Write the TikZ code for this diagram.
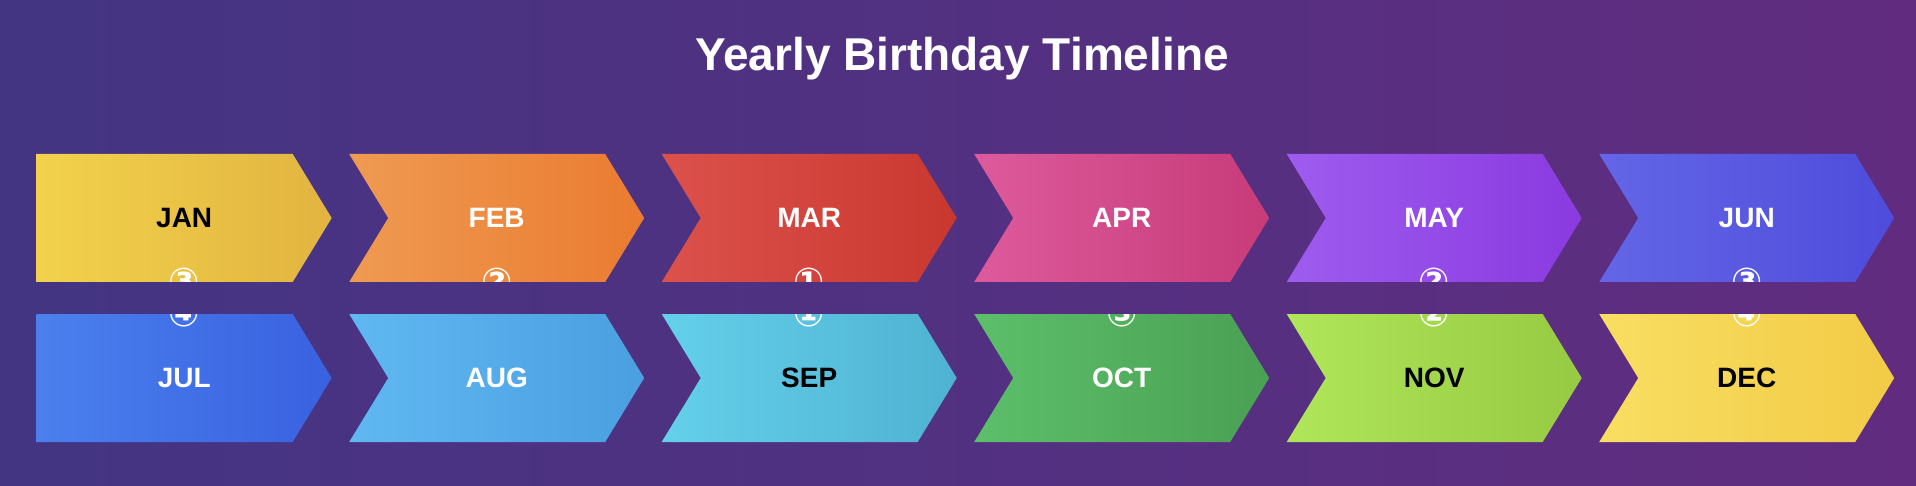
\documentclass[tikz,border=0pt]{standalone}
\usepackage{fontspec}
\setmainfont{Liberation Sans}
\newfontfamily\badgefont{DejaVu Sans}
\definecolor{bgL}{HTML}{433582}
\definecolor{bgR}{HTML}{612C80}
\definecolor{janA}{HTML}{F2D24C}\definecolor{janB}{HTML}{E2B440}
\definecolor{febA}{HTML}{EF9A52}\definecolor{febB}{HTML}{EA7B30}
\definecolor{marA}{HTML}{DC514C}\definecolor{marB}{HTML}{C9382F}
\definecolor{aprA}{HTML}{DD5A9C}\definecolor{aprB}{HTML}{C73B78}
\definecolor{mayA}{HTML}{9E5CEF}\definecolor{mayB}{HTML}{8A3AE0}
\definecolor{junA}{HTML}{6366E6}\definecolor{junB}{HTML}{4E4CDC}
\definecolor{julA}{HTML}{4B80EE}\definecolor{julB}{HTML}{3961E0}
\definecolor{augA}{HTML}{60B8F2}\definecolor{augB}{HTML}{4A9FE0}
\definecolor{sepA}{HTML}{64D0EA}\definecolor{sepB}{HTML}{4FB2D2}
\definecolor{octA}{HTML}{5CBF6A}\definecolor{octB}{HTML}{4AA053}
\definecolor{novA}{HTML}{B0E65A}\definecolor{novB}{HTML}{96CA42}
\definecolor{decA}{HTML}{F8DE62}\definecolor{decB}{HTML}{F2CB46}
\tikzset{
  month/.style={font=\fontsize{28}{30}\selectfont\bfseries},
  badge/.style={text=white,inner sep=0pt,font=\badgefont\bfseries\fontsize{37}{40}\selectfont}
}
\begin{document}
\begin{tikzpicture}[x=1pt,y=-1pt,line join=round]
\shade[left color=bgL,right color=bgR] (0,0) rectangle (1916,486);
\useasboundingbox (0,0) rectangle (1916,486);
\node[text=white,font=\fontsize{46}{50}\selectfont\bfseries] (title) at (962,59) {Yearly Birthday Timeline};
% one chevron per month: column/row, two shades, label colour, count
\foreach \m/\c/\r/\a/\b/\t/\n in {JAN/0/0/janA/janB/black/③, FEB/1/0/febA/febB/white/②,
  MAR/2/0/marA/marB/white/①, APR/3/0/aprA/aprB/white/, MAY/4/0/mayA/mayB/white/②,
  JUN/5/0/junA/junB/white/③, JUL/0/1/julA/julB/white/④, AUG/1/1/augA/augB/white/,
  SEP/2/1/sepA/sepB/black/①, OCT/3/1/octA/octB/white/③, NOV/4/1/novA/novB/black/②,
  DEC/5/1/decA/decB/black/④}{
  \pgfmathsetmacro\L{36.7+312.5*\c}
  \pgfmathsetmacro\T{154+160*\r}
  \pgfmathsetmacro\N{\c==0 ? 0 : 39}
  \pgfmathsetmacro\B{\r==0 ? \T+128 : \T}
  \def\chev{(\L,\T) -- ({\L+256},\T) -- ({\L+295},{\T+64}) -- ({\L+256},{\T+128})
    -- (\L,{\T+128}) -- ({\L+\N},{\T+64}) -- cycle}
  \shade[left color=\a,right color=\b] \chev;
  \node[month,text=\t] (\m) at ({\L+147.5},{\T+64}) {\m};
  \begin{scope}
    \clip \chev;
    \node[badge] (\m-count) at ({\L+147.5},\B) {\n};
  \end{scope}
}
\end{tikzpicture}
\end{document}
